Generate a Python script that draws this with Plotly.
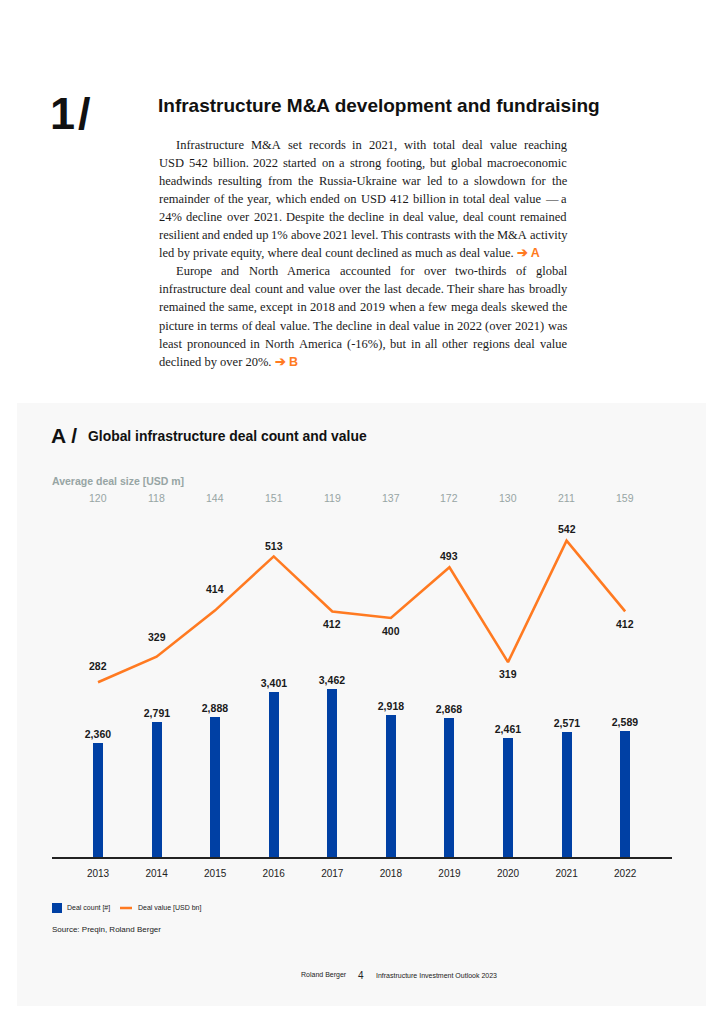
import plotly.graph_objects as go

years = [2013, 2014, 2015, 2016, 2017, 2018, 2019, 2020, 2021, 2022]
deal_count = [2360, 2791, 2888, 3401, 3462, 2918, 2868, 2461, 2571, 2589]
deal_value = [282, 329, 414, 513, 412, 400, 493, 319, 542, 412]
avg_deal_size = [120, 118, 144, 151, 119, 137, 172, 130, 211, 159]

# label offsets (px) for the deal value labels, as in the reference layout
value_label_shift = [16, 19.5, 21, 10, -13, -12.7, 11, -12, 11.7, -12.7]

ARROW = "<span style='color:#FF7A21;font-family:Liberation Sans;font-weight:bold'>\u2794 {}</span>"
# (text, first line of paragraph, justified)
body_lines = [
    ("Infrastructure M&A set records in 2021, with total deal value reaching", True, True),
    ("USD 542 billion. 2022 started on a strong footing, but global macroeconomic", False, True),
    ("headwinds resulting from the Russia-Ukraine war led to a slowdown for the", False, True),
    ("remainder of the year, which ended on USD 412 billion in total deal value \u2014 a", False, True),
    ("24% decline over 2021. Despite the decline in deal value, deal count remained", False, True),
    ("resilient and ended up 1% above 2021 level. This contrasts with the M&A activity", False, True),
    ("led by private equity, where deal count declined as much as deal value. " + ARROW.format("A"), False, False),
    ("Europe and North America accounted for over two-thirds of global", True, True),
    ("infrastructure deal count and value over the last decade. Their share has broadly", False, True),
    ("remained the same, except in 2018 and 2019 when a few mega deals skewed the", False, True),
    ("picture in terms of deal value. The decline in deal value in 2022 (over 2021) was", False, True),
    ("least pronounced in North America (-16%), but in all other regions deal value", False, True),
    ("declined by over 20%. " + ARROW.format("B"), False, False),
]

# The page body has an 8px margin: figure is placed at (8, 8) in the window.
OFF = 8
FIG_W, FIG_H = 708, 1008
L, R, T, B = 52, 672, 500, 858  # plot area in window pixels

def px(x):
    return (x - L) / (R - L)

def py(y):
    return (B - y) / (B - T)

BLUE = "#0040A4"
ORANGE = "#FF7A21"
GREY_TXT = "#97A5A4"
SANS = "Liberation Sans"
SERIF = "Liberation Serif"

# Times / Liberation Serif advance widths (per 1000 em)
TW = {' ': 250, '%': 833, '&': 778, '(': 333, ')': 333, ',': 250, '-': 333, '.': 250, '\u2014': 1000,
      'A': 722, 'B': 667, 'C': 667, 'D': 722, 'E': 611, 'F': 556, 'G': 722, 'H': 722, 'I': 333,
      'J': 389, 'K': 722, 'L': 611, 'M': 889, 'N': 722, 'O': 722, 'P': 556, 'Q': 722, 'R': 667,
      'S': 556, 'T': 611, 'U': 722, 'V': 722, 'W': 944, 'X': 722, 'Y': 722, 'Z': 611,
      'a': 444, 'b': 500, 'c': 444, 'd': 500, 'e': 444, 'f': 333, 'g': 500, 'h': 500, 'i': 278,
      'j': 278, 'k': 500, 'l': 278, 'm': 778, 'n': 500, 'o': 500, 'p': 500, 'q': 500, 'r': 333,
      's': 389, 't': 278, 'u': 500, 'v': 500, 'w': 722, 'x': 500, 'y': 500, 'z': 444}

def tw(s, size):
    return sum(TW.get(c, 500) for c in s) * size / 1000.0

fig = go.Figure()
fig.add_trace(go.Bar(
    x=years, y=deal_count, width=0.17, marker=dict(color=BLUE, line=dict(width=0)),
    text=[f"<b>{v:,}</b>" for v in deal_count], textposition="outside", cliponaxis=False,
    constraintext="none", textangle=0,
    textfont=dict(family=SANS, size=10.5, color="#1a1a1a"),
    name="Deal count [#]", showlegend=False,
))
fig.add_trace(go.Scatter(
    x=years, y=deal_value, mode="lines", yaxis="y2",
    line=dict(color=ORANGE, width=2.6), cliponaxis=False,
    name="Deal value [USD bn]", showlegend=False,
))

shapes = [
    dict(type="rect", xref="paper", yref="paper", x0=px(17), x1=px(706), y0=py(1006), y1=py(403),
         fillcolor="#F8F8F8", line=dict(width=0), layer="below"),
    dict(type="line", xref="paper", yref="paper", x0=0, x1=1, y0=0, y1=0,
         line=dict(color="#222222", width=2)),
    dict(type="rect", xref="paper", yref="paper", x0=px(52), x1=px(62), y0=py(913), y1=py(903),
         fillcolor=BLUE, line=dict(width=0)),
    dict(type="line", xref="paper", yref="paper", x0=px(120), x1=px(132), y0=py(908), y1=py(908),
         line=dict(color=ORANGE, width=2.5)),
]

ann = []
def text(x, y, s, size, color="#111111", family=SANS, xanchor="left", yanchor="middle"):
    ann.append(dict(xref="paper", yref="paper", x=px(x), y=py(y), text=s, showarrow=False,
                    xanchor=xanchor, yanchor=yanchor, borderpad=0,
                    font=dict(size=size, color=color, family=family)))

text(49, 113, "<b>1</b>", 45)
text(77, 113, "<b>/</b>", 45)
text(157, 105, "<b>Infrastructure M&A development and fundraising</b>", 19)

FS = 12.5
X_LEFT, X_INDENT, X_RIGHT = 158, 175, 566
for i, (line, first, justified) in enumerate(body_lines):
    y = 144.5 + i * 18.1
    x0 = X_INDENT if first else X_LEFT
    if not justified:
        text(x0, y, line, FS, color="#1a1a1a", family=SERIF)
        continue
    words = line.split(" ")
    widths = [tw(w, FS) for w in words]
    gap = (X_RIGHT - x0 - sum(widths)) / (len(words) - 1)
    x = x0
    for w, wd in zip(words, widths):
        text(x, y, w, FS, color="#1a1a1a", family=SERIF)
        x += wd + gap

text(50, 435, "<b>A /</b>", 21)
text(87, 436, "<b>Global infrastructure deal count and value</b>", 13.9)
text(51, 481, "<b>Average deal size [USD m]</b>", 10.5, color=GREY_TXT)
for yr, v in zip(years, avg_deal_size):
    ann.append(dict(xref="x", yref="paper", x=yr, y=py(498), text=str(v), showarrow=False,
                    xanchor="center", yanchor="middle",
                    font=dict(size=10.5, color=GREY_TXT, family=SANS)))
for yr, v, s in zip(years, deal_value, value_label_shift):
    ann.append(dict(xref="x", yref="y2", x=yr, y=v, text=f"<b>{v}</b>", showarrow=False,
                    xanchor="center", yanchor="middle", yshift=s,
                    font=dict(size=10.5, color="#1a1a1a", family=SANS)))

text(66, 908, "Deal count [#]", 7, color="#222222")
text(137, 908, "Deal value [USD bn]", 7, color="#222222")
text(51, 929, "Source: Preqin, Roland Berger", 8, color="#222222")
text(348, 975, "Roland Berger", 7, color="#222222", xanchor="right")
text(361, 975, "4", 10, color="#222222", xanchor="center")
text(375, 975, "Infrastructure Investment Outlook 2023", 7, color="#222222")

fig.update_layout(
    width=FIG_W, height=FIG_H,
    margin=dict(l=L - OFF, r=OFF + FIG_W - R, t=T - OFF, b=OFF + FIG_H - B, pad=0),
    paper_bgcolor="white", plot_bgcolor="rgba(0,0,0,0)",
    shapes=shapes, annotations=ann, showlegend=False, bargap=0,
    xaxis=dict(range=[2012.214, 2022.80], tickmode="array", tickvals=years,
               ticktext=[str(y) for y in years], showgrid=False, zeroline=False,
               showline=False, ticks="", ticklabelstandoff=8,
               tickfont=dict(family=SANS, size=10, color="#222222")),
    yaxis=dict(range=[0, 7321], visible=False, showgrid=False),
    yaxis2=dict(range=[-40.4, 616.5], overlaying="y", visible=False, showgrid=False),
)

fig.write_html("out.html")
